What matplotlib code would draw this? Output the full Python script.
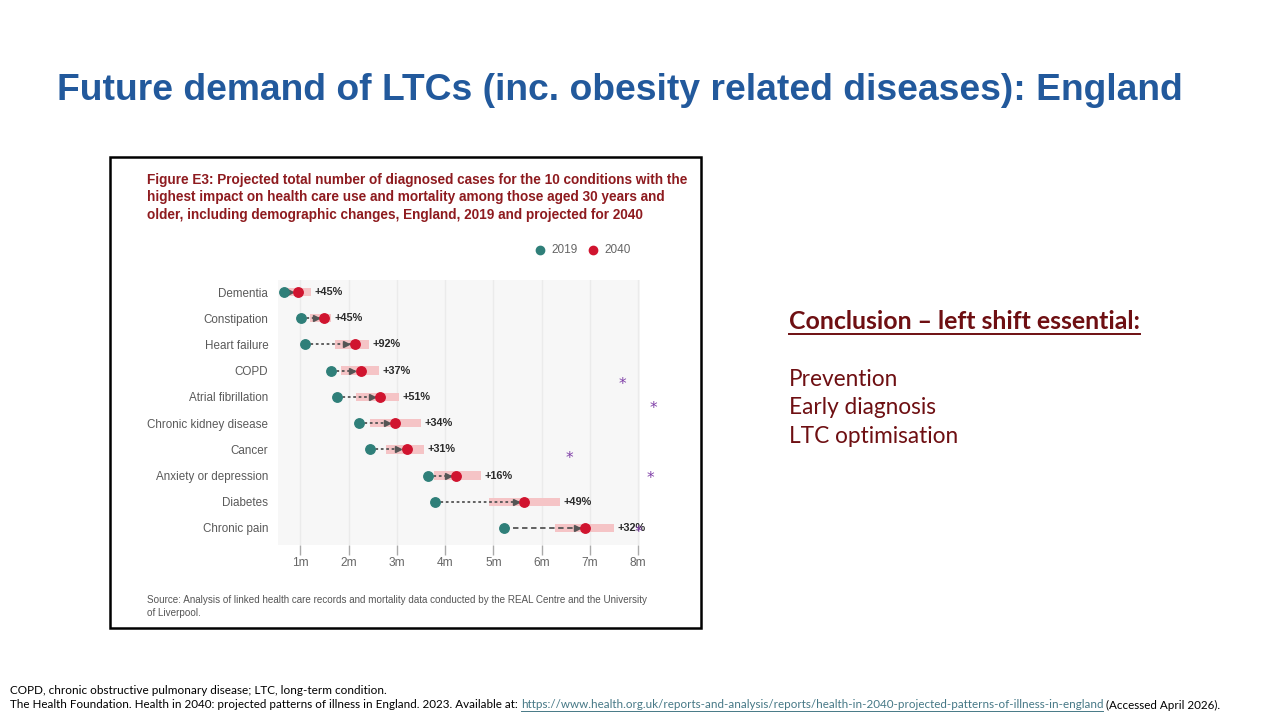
import matplotlib
matplotlib.use("Agg")
import matplotlib.pyplot as plt
from matplotlib.transforms import ScaledTranslation
from matplotlib.patches import Rectangle
from matplotlib.lines import Line2D

# ---------------- data ----------------
conditions = ["Dementia", "Constipation", "Heart failure", "COPD", "Atrial fibrillation",
              "Chronic kidney disease", "Cancer", "Anxiety or depression", "Diabetes", "Chronic pain"]
cases_2019 = [0.65, 1.02, 1.10, 1.64, 1.75, 2.22, 2.44, 3.65, 3.78, 5.22]
cases_2040 = [0.95, 1.49, 2.13, 2.25, 2.65, 2.97, 3.20, 4.23, 5.64, 6.91]
range_low = [0.74, 1.19, 1.72, 1.84, 2.15, 2.44, 2.77, 3.76, 4.91, 6.27]
range_high = [1.22, 1.63, 2.43, 2.63, 3.04, 3.49, 3.56, 4.74, 6.38, 7.51]
pct_labels = ["+45%", "+45%", "+92%", "+37%", "+51%", "+34%", "+31%", "+16%", "+49%", "+32%"]
x_ticks = [1, 2, 3, 4, 5, 6, 7, 8]
x_tick_labels = ["1m", "2m", "3m", "4m", "5m", "6m", "7m", "8m"]
legend_labels = ["2019", "2040"]

slide_title = "Future demand of LTCs (inc. obesity related diseases): England"
fig_title_lines = [
    "Figure E3: Projected total number of diagnosed cases for the 10 conditions with the",
    "highest impact on health care use and mortality among those aged 30 years and",
    "older, including demographic changes, England, 2019 and projected for 2040",
]
source_lines = [
    "Source: Analysis of linked health care records and mortality data conducted by the REAL Centre and the University",
    "of Liverpool.",
]
conclusion_head = "Conclusion \u2013 left shift essential:"
conclusion_items = ["Prevention", "Early diagnosis", "LTC optimisation"]
footer_line1 = "COPD, chronic obstructive pulmonary disease; LTC, long-term condition."
footer_pre = "The Health Foundation. Health in 2040: projected patterns of illness in England. 2023. Available at: "
footer_link = "https://www.health.org.uk/reports-and-analysis/reports/health-in-2040-projected-patterns-of-illness-in-england"
footer_post = " (Accessed April 2026)."

# ---------------- style ----------------
TEAL = "#2f7f79"
RED = "#d0142f"
PINK = "#f5c4c6"
ARROW = "#555555"
BLUE = "#22599c"
MAROON = "#6e0f12"
PURPLE = "#8040a8"

W, H = 1280, 720
fig = plt.figure(figsize=(12.8, 7.2), dpi=100)
fig.patch.set_facecolor("white")
renderer = fig.canvas.get_renderer()


def P(x, y):
    return x / W, 1 - y / H


def fit(t, target_px):
    bb = t.get_window_extent(renderer)
    t.set_fontsize(t.get_fontsize() * target_px / bb.width)
    return t


# slide title
t = fig.text(*P(57, 100), slide_title, fontsize=24, fontweight="bold", color=BLUE,
             family="Liberation Sans", va="baseline", ha="left")
fit(t, 1130)

# chart frame
fig.add_artist(Rectangle(P(110, 628), 591 / W, 471 / H, transform=fig.transFigure,
                         fill=False, ec="black", lw=1.8))

# chart title
ft = None
for i, line in enumerate(fig_title_lines):
    tt = fig.text(*P(147, 184 + 17.5 * i), line, fontsize=9.5, fontweight="bold",
                  color="#8e1b1f", family="Liberation Sans", va="baseline", ha="left")
    if i == 0:
        fit(tt, 540)
        ft = tt.get_fontsize()
    else:
        tt.set_fontsize(ft)

# legend
for (x, col), lab in zip([(540, TEAL), (593, RED)], legend_labels):
    fig.add_artist(Line2D([x / W], [1 - 250 / H], marker="o", ms=6, color=col,
                          transform=fig.transFigure, ls="none"))
    fig.text(*P(x + 11, 250), lab, fontsize=8.5, color="#666666", family="Liberation Sans",
             va="center", ha="left")

# ---------------- main axes ----------------
ax = fig.add_axes([278 / W, 1 - 545 / H, (640 - 278) / W, (545 - 280) / H])
ax.set_facecolor("#f7f7f7")
ypos = list(range(len(conditions)))
ax.set_xlim(0.535, 8.04)
ax.set_ylim(9 + 17 / 26.2, -12 / 26.2)

for xv in x_ticks:
    ax.axvline(xv, color="#ebebeb", lw=1, zorder=0)

ax.barh(ypos, [h - l for l, h in zip(range_low, range_high)], left=range_low,
        height=0.32, color=PINK, zorder=1)

head_tr = ax.transData + ScaledTranslation(-8.5 / 100, 0, fig.dpi_scale_trans)
for i, (a, b) in enumerate(zip(cases_2019, cases_2040)):
    ls = (0, (3, 2)) if i == len(conditions) - 1 else (0, (1.5, 1.5))
    ax.plot([a, b], [i, i], color=ARROW, lw=1.3, ls=ls, zorder=2)
    ax.plot([b], [i], marker=">", ms=4.6, color=ARROW, transform=head_tr, zorder=3)

ax.plot(cases_2019, ypos, "o", ms=6.8, color=TEAL, zorder=4, ls="none")
ax.plot(cases_2040, ypos, "o", ms=6.8, color=RED, zorder=4, ls="none")

for i, (h, lab) in enumerate(zip(range_high, pct_labels)):
    ax.annotate(lab, (h, i), xytext=(2.5, 0), textcoords="offset points",
                va="center", ha="left", fontsize=7.8, color="#2a2a2a",
                family="Liberation Sans", fontweight="bold", zorder=5, annotation_clip=False)

ax.set_yticks(ypos)
ax.set_yticklabels(conditions, family="Liberation Sans", fontsize=8.4, color="#5a5a5a")
ax.set_xticks(x_ticks)
ax.set_xticklabels(x_tick_labels, family="Liberation Sans", fontsize=8.6, color="#666666")
ax.tick_params(axis="y", length=0, pad=7)
ax.tick_params(axis="x", length=7, width=1, color="#aaaaaa", pad=2)
for s in ax.spines.values():
    s.set_visible(False)

# source
for i, line in enumerate(source_lines):
    st = fig.text(*P(147, 600 + 13 * i), line, fontsize=6.5, color="#555555",
                  family="Liberation Sans", va="center", ha="left")
    if i == 0:
        fit(st, 504)
        sfs = st.get_fontsize()
    else:
        st.set_fontsize(sfs)

# stray asterisks
for (x, y) in [(622, 381), (653, 404), (569, 455), (650, 475), (638, 528)]:
    fig.text(*P(x, y + 4), "*", fontsize=11, color=PURPLE, family="DejaVu Sans",
             ha="center", va="center")

# conclusion block
ct = fig.text(*P(789, 329), conclusion_head, fontsize=15, fontweight="bold", color=MAROON,
              family="Lato", va="baseline", ha="left")
fit(ct, 352)
bb = ct.get_window_extent(renderer)
uy = 1 - 334 / H
fig.add_artist(Line2D([bb.x0 / W, bb.x1 / W], [uy, uy], color=MAROON, lw=1.4,
                      transform=fig.transFigure))
item_targets = [109, 154, 173]
item_y = [386, 414.5, 443]
fs_items = None
for txt, tw, yy in zip(conclusion_items, item_targets, item_y):
    it = fig.text(*P(789, yy), txt, fontsize=15, color=MAROON, family="Lato",
                  va="baseline", ha="left")
    if fs_items is None:
        fit(it, tw)
        fs_items = it.get_fontsize()
    else:
        it.set_fontsize(fs_items)

# footer
f1 = fig.text(*P(10, 691), footer_line1, fontsize=7, color="black", family="Lato",
              va="center", ha="left")
fit(f1, 377)
ffs = f1.get_fontsize()

parts = [(footer_pre, "black"), (footer_link, "#467886"), (footer_post, "black")]
tmp = fig.text(0, 0, footer_pre + footer_link + footer_post, fontsize=ffs, family="Lato")
tw = tmp.get_window_extent(renderer).width
tmp.remove()
ffs2 = ffs * 1210 / tw
x = 10
for txt, col in parts:
    tx = fig.text(*P(x, 705), txt, fontsize=ffs2, color=col, family="Lato",
                  va="center", ha="left")
    b = tx.get_window_extent(renderer)
    if col != "black":
        ly = 1 - 711 / H
        fig.add_artist(Line2D([b.x0 / W, b.x1 / W], [ly, ly], color=col, lw=0.7,
                              transform=fig.transFigure))
    x += b.width

fig.savefig("out.png", dpi=100, facecolor="white")
